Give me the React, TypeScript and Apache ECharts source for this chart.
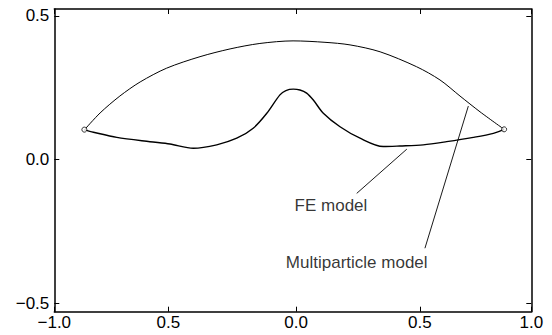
import React, { useEffect, useRef } from "react";
import * as echarts from "echarts";

// Axis ticks (positions in data units as measured on the picture) and their labels
const xTickValues = [-1.0, -0.522, 0.0138, 0.533, 1.0];
const xTickLabels = ["\u22121.0", "0.5", "0.0", "0.5", "1.0"];
const yTickValues = [-0.5, 0.0, 0.5];
const yTickLabels = ["\u22120.5", "0.0", "0.5"];

// Multiparticle model (upper arc)
const multiX = [-0.874, -0.808, -0.725, -0.64, -0.529, -0.389, -0.263, -0.138, 0.001, 0.135, 0.24, 0.366, 0.519, 0.617, 0.701, 0.785, 0.886];
const multiY = [0.103, 0.162, 0.221, 0.27, 0.318, 0.358, 0.385, 0.404, 0.413, 0.408, 0.399, 0.375, 0.323, 0.277, 0.221, 0.166, 0.105];

// FE model (lower curve with central bump)
const feX = [-0.874, -0.836, -0.738, -0.599, -0.515, -0.417, -0.319, -0.235, -0.166, -0.109, -0.054, -0.029, 0.002, 0.03, 0.058, 0.086, 0.128, 0.198, 0.282, 0.379, 0.449, 0.547, 0.645, 0.757, 0.841, 0.886];
const feY = [0.103, 0.095, 0.077, 0.062, 0.054, 0.039, 0.051, 0.074, 0.109, 0.161, 0.225, 0.24, 0.245, 0.242, 0.231, 0.207, 0.161, 0.114, 0.074, 0.045, 0.047, 0.051, 0.062, 0.077, 0.091, 0.105];

// End points (open circles)
const endX = [-0.874, 0.886];
const endY = [0.104, 0.105];

// Annotations
const annotationTexts = ["FE model", "Multiparticle model"];
const annotationTextX = [0.16, 0.268];
const annotationTextY = [-0.159, -0.357];
const leaderStartX = [0.268, 0.554];
const leaderStartY = [-0.118, -0.309];
const leaderEndX = [0.478, 0.736];
const leaderEndY = [0.036, 0.186];

const FONT = "Liberation Sans";
const FONT_SIZE = 17;

function pairs(xs: number[], ys: number[]) {
  return xs.map((x, i) => [x, ys[i]]);
}

function nearestLabel(v: number, vals: number[], labels: string[]) {
  let best = 0;
  for (let i = 1; i < vals.length; i++) {
    if (Math.abs(vals[i] - v) < Math.abs(vals[best] - v)) best = i;
  }
  return labels[best];
}

export default function App() {
  const ref = useRef<HTMLDivElement>(null);

  useEffect(() => {
    document.body.style.margin = "0";
    if (!ref.current) return;
    const chart = echarts.init(ref.current, undefined, { renderer: "svg" });

    const axisLine = { show: true, onZero: false, lineStyle: { color: "#000", width: 1.5 } };
    const xTick = { show: true, inside: true, length: 5, customValues: xTickValues, lineStyle: { color: "#000", width: 1 } };
    const yTick = { show: true, inside: true, length: 5, customValues: yTickValues, lineStyle: { color: "#000", width: 1 } };

    const leaderSeries = annotationTexts.map((_, i) => ({
      type: "line",
      xAxisIndex: 0,
      yAxisIndex: 0,
      data: [
        [leaderStartX[i], leaderStartY[i]],
        [leaderEndX[i], leaderEndY[i]],
      ],
      showSymbol: false,
      symbol: "none",
      lineStyle: { color: "#000", width: 0.9 },
      silent: true,
    }));

    chart.setOption({
      animation: false,
      backgroundColor: "#fff",
      grid: { left: 54.3, right: 20.7, top: 9, bottom: 23.3, containLabel: false },
      xAxis: [
        {
          type: "value",
          position: "bottom",
          min: -1,
          max: 1,
          axisLine,
          axisTick: xTick,
          splitLine: { show: false },
          axisLabel: {
            show: true,
            customValues: xTickValues,
            formatter: (v: number) => nearestLabel(v, xTickValues, xTickLabels),
            color: "#000",
            fontSize: FONT_SIZE,
            fontFamily: FONT,
            margin: 2,
          },
        },
        {
          type: "value",
          position: "top",
          min: -1,
          max: 1,
          axisLine,
          axisTick: xTick,
          splitLine: { show: false },
          axisLabel: { show: false },
        },
      ],
      yAxis: [
        {
          type: "value",
          position: "left",
          min: -0.53,
          max: 0.524,
          axisLine,
          axisTick: yTick,
          splitLine: { show: false },
          axisLabel: {
            show: true,
            customValues: yTickValues,
            formatter: (v: number) => nearestLabel(v, yTickValues, yTickLabels),
            color: "#000",
            fontSize: FONT_SIZE,
            fontFamily: FONT,
            margin: 5,
          },
        },
        {
          type: "value",
          position: "right",
          min: -0.53,
          max: 0.524,
          axisLine,
          axisTick: yTick,
          splitLine: { show: false },
          axisLabel: { show: false },
        },
      ],
      series: [
        {
          type: "line",
          name: "Multiparticle model",
          data: pairs(multiX, multiY),
          smooth: 0.3,
          showSymbol: false,
          symbol: "none",
          lineStyle: { color: "#000", width: 1 },
        },
        {
          type: "line",
          name: "FE model",
          data: pairs(feX, feY),
          smooth: 0.3,
          showSymbol: false,
          symbol: "none",
          lineStyle: { color: "#000", width: 1.4 },
        },
        ...leaderSeries,
        {
          type: "scatter",
          data: pairs(endX, endY),
          symbol: "circle",
          symbolSize: 5,
          itemStyle: { color: "#fff", borderColor: "#000", borderWidth: 1 },
          z: 5,
        },
        {
          type: "scatter",
          data: annotationTexts.map((t, i) => ({ value: [annotationTextX[i], annotationTextY[i]], name: t })),
          symbol: "circle",
          symbolSize: 2,
          itemStyle: { color: "rgba(255,255,255,0)" },
          label: {
            show: true,
            position: "inside",
            formatter: (p: any) => p.name,
            color: "#000",
            textBorderWidth: 0,
            fontSize: FONT_SIZE,
            fontFamily: FONT,
          },
          labelLayout: { hideOverlap: false },
          silent: true,
          z: 6,
        },
      ],
    });

    return () => chart.dispose();
  }, []);

  return <div ref={ref} style={{ width: 552, height: 335 }} />;
}
